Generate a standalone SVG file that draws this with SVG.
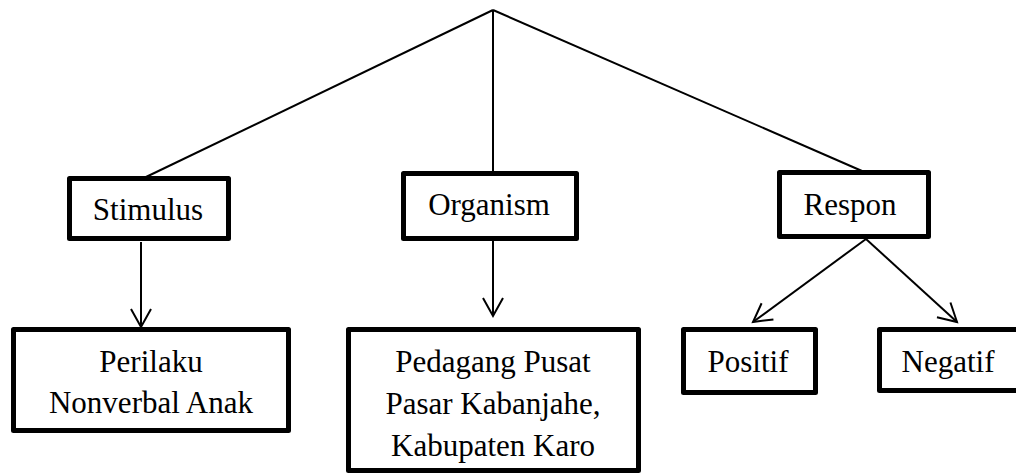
<svg xmlns="http://www.w3.org/2000/svg" width="1016" height="475" viewBox="0 0 1016 475">
<style>
.box{fill:#fff;stroke:#000;stroke-width:5;stroke-linejoin:round}
.t{font-family:'Liberation Serif','Times New Roman',Tinos,'DejaVu Serif',serif;font-size:31px;fill:#000;text-anchor:middle}
.ln{stroke:#000;stroke-width:2;fill:none}
</style>
<defs>
<marker id="arr" markerUnits="userSpaceOnUse" markerWidth="24" markerHeight="24" viewBox="-20 -12 24 24" refX="0" refY="0" orient="auto">
<path d="M-18,-10 L0,0 L-18,10" fill="none" stroke="#000" stroke-width="2"/>
</marker>
</defs>
<g id="connectors">
<line class="ln" x1="493" y1="10" x2="146" y2="177"/>
<line class="ln" x1="493" y1="10" x2="493" y2="172"/>
<line class="ln" x1="493" y1="10" x2="862" y2="171"/>
<line class="ln" x1="141" y1="242" x2="141" y2="327" marker-end="url(#arr)"/>
<line class="ln" x1="493" y1="241" x2="493" y2="316" marker-end="url(#arr)"/>
<line class="ln" x1="866" y1="239" x2="753" y2="322" marker-end="url(#arr)"/>
<line class="ln" x1="866" y1="239" x2="957" y2="322" marker-end="url(#arr)"/>
</g>
<g id="stimulus" font-family="Liberation Serif, serif">
<rect class="box" x="69.5" y="178.5" width="159" height="60"/>
<text class="t" x="148" y="220">Stimulus</text>
</g>
<g id="organism">
<rect class="box" x="403.5" y="173.5" width="173" height="65"/>
<text class="t" x="489" y="215">Organism</text>
</g>
<g id="respon">
<rect class="box" x="779.5" y="172.5" width="149" height="64"/>
<text class="t" x="850" y="215">Respon</text>
</g>
<g id="perilaku">
<rect class="box" x="13.5" y="329.5" width="275" height="101"/>
<text class="t" x="151" y="372">Perilaku</text>
<text class="t" x="151" y="413">Nonverbal Anak</text>
</g>
<g id="pedagang">
<rect class="box" x="348.5" y="329.5" width="290" height="141"/>
<text class="t" x="493" y="372">Pedagang Pusat</text>
<text class="t" x="493" y="414">Pasar Kabanjahe,</text>
<text class="t" x="493" y="456">Kabupaten Karo</text>
</g>
<g id="positif">
<rect class="box" x="683.5" y="329.5" width="132" height="63"/>
<text class="t" x="748" y="372">Positif</text>
</g>
<g id="negatif">
<rect class="box" x="879.5" y="329.5" width="140" height="61"/>
<text class="t" x="948" y="372">Negatif</text>
</g>
</svg>
